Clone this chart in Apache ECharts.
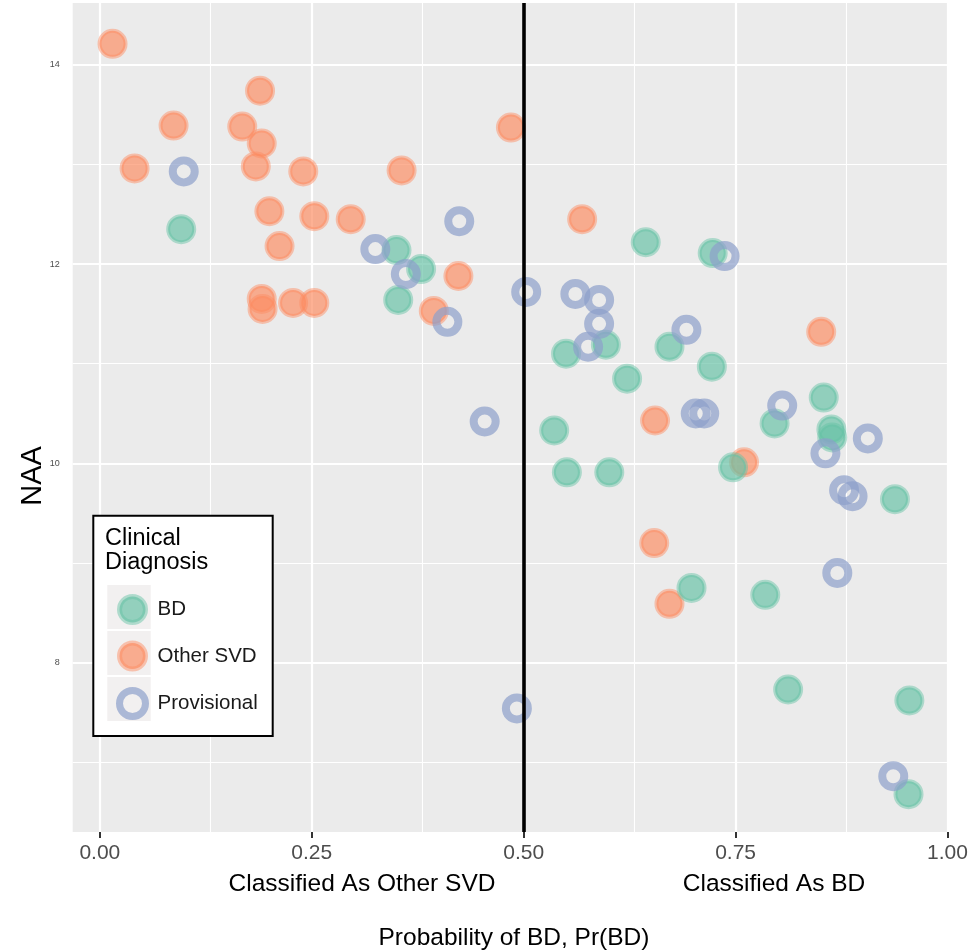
<!DOCTYPE html>
<html>
<head>
<meta charset="utf-8">
<script src="https://cdn.jsdelivr.net/npm/echarts@6/dist/echarts.min.js"></script>
<style>
  html, body { margin: 0; padding: 0; background: #ffffff; }
  #chart { width: 972px; height: 952px; }
</style>
</head>
<body>
<div id="chart"></div>
<script>
// Probability of BD vs NAA, by clinical diagnosis
const seriesNames = ['BD', 'Other SVD', 'Provisional'];

const bdProb = [0.096, 0.350, 0.379, 0.352, 0.644, 0.723, 0.597, 0.550, 0.672, 0.722, 0.622, 0.536, 0.551,
                0.601, 0.747, 0.796, 0.854, 0.863, 0.864, 0.938, 0.698, 0.785, 0.812, 0.955, 0.954];
const bdNAA  = [12.35, 12.14, 11.95, 11.64, 12.22, 12.11, 11.19, 11.10, 11.17, 10.97, 10.85, 10.33, 9.91,
                9.91, 9.96, 10.40, 10.66, 10.34, 10.26, 9.64, 8.75, 8.68, 7.73, 7.62, 6.68];

const otherProb = [0.015, 0.189, 0.087, 0.168, 0.191, 0.041, 0.184, 0.240, 0.356, 0.485, 0.200, 0.253, 0.296,
                   0.212, 0.423, 0.394, 0.191, 0.192, 0.228, 0.253, 0.569, 0.851, 0.655, 0.760, 0.654, 0.672];
const otherNAA  = [14.21, 13.74, 13.39, 13.38, 13.21, 12.96, 12.98, 12.93, 12.94, 13.37, 12.53, 12.48, 12.45,
                   12.18, 11.88, 11.53, 11.65, 11.55, 11.61, 11.61, 12.45, 11.32, 10.43, 10.01, 9.20, 8.59];

const provProb = [0.099, 0.424, 0.325, 0.361, 0.410, 0.503, 0.454, 0.737, 0.561, 0.589, 0.589, 0.576, 0.692,
                  0.703, 0.713, 0.805, 0.856, 0.906, 0.878, 0.888, 0.870, 0.492, 0.936];
const provNAA  = [12.93, 12.43, 12.15, 11.90, 11.42, 11.72, 10.42, 12.08, 11.70, 11.64, 11.40, 11.17, 11.34,
                  10.50, 10.50, 10.58, 10.10, 10.25, 9.73, 9.67, 8.90, 7.54, 6.86];

const xTicks = [0, 0.25, 0.5, 0.75, 1];
const xMinor = [0.125, 0.375, 0.625, 0.875];
const yTicks = [8, 10, 12, 14];
const yMinor = [7, 9, 11, 13];
const cutoff = 0.5;

const FONT = "'Liberation Sans', Arial, Helvetica, sans-serif";
const pairs = (xs, ys) => xs.map((x, i) => [x, ys[i]]);

const gridLines = [].concat(
  xTicks.map(v => ({ xAxis: v, lineStyle: { width: 2.2 } })),
  xMinor.map(v => ({ xAxis: v, lineStyle: { width: 1.1 } })),
  yTicks.map(v => ({ yAxis: v, lineStyle: { width: 2.2 } })),
  yMinor.map(v => ({ yAxis: v, lineStyle: { width: 1.1 } }))
);

const chart = echarts.init(document.getElementById('chart'), null, { renderer: 'canvas' });

chart.setOption({
  animation: false,
  backgroundColor: '#ffffff',
  grid: {
    left: 72.7, right: 24.5, top: 3, bottom: 120,
    show: true, backgroundColor: '#EBEBEB', borderWidth: 0
  },
  xAxis: {
    type: 'value', min: -0.032, max: 1.0,
    axisLine: { show: false },
    splitLine: { show: false },
    axisTick: { show: true, customValues: xTicks, length: 6, lineStyle: { color: '#333333', width: 2 } },
    axisLabel: {
      customValues: xTicks, showMinLabel: true, showMaxLabel: true,
      formatter: v => v.toFixed(2), fontSize: 21, color: '#4D4D4D', fontFamily: FONT, margin: 11
    }
  },
  yAxis: {
    type: 'value', min: 6.30, max: 14.62,
    axisLine: { show: false },
    splitLine: { show: false },
    axisTick: { show: true, customValues: yTicks, length: 6, lineStyle: { color: '#333333', width: 2 } },
    axisLabel: {
      customValues: yTicks, fontSize: 9, color: '#4D4D4D', fontFamily: FONT, margin: 13
    }
  },
  legend: {
    orient: 'vertical', left: 116, top: 594, padding: 0,
    itemWidth: 26, itemHeight: 26, itemGap: 15.5,
    selectedMode: false,
    textStyle: { fontSize: 20.5, color: '#1A1A1A', fontFamily: FONT, padding: [0, 0, 0, 7], lineHeight: 24 },
    data: [
      { name: 'BD', itemStyle: { borderWidth: 5 } },
      { name: 'Other SVD', itemStyle: { borderWidth: 5 } },
      { name: 'Provisional', itemStyle: { borderWidth: 7 } }
    ],
    z: 6
  },
  graphic: [
    { type: 'rect', z: 5, z2: 0, shape: { x: 93.3, y: 515.7, width: 179.4, height: 220.3 },
      style: { fill: '#ffffff', stroke: '#000000', lineWidth: 2 } },
    { type: 'rect', z: 5, z2: 1, shape: { x: 107.3, y: 585, width: 43.4, height: 44 }, style: { fill: '#F2F0F0' } },
    { type: 'rect', z: 5, z2: 1, shape: { x: 107.3, y: 631, width: 43.4, height: 44 }, style: { fill: '#F2F0F0' } },
    { type: 'rect', z: 5, z2: 1, shape: { x: 107.3, y: 677, width: 43.4, height: 44 }, style: { fill: '#F2F0F0' } },
    { type: 'text', z: 5, z2: 2, left: 105, top: 526,
      style: { text: 'Clinical\nDiagnosis', fontSize: 23.5, lineHeight: 24.5, fill: '#000000', fontFamily: FONT } },
    { type: 'text', z: 5, left: 18, top: 'middle', rotation: Math.PI / 2,
      style: { text: 'NAA', fontSize: 29, fill: '#000000', fontFamily: FONT } },
    { type: 'text', z: 5, style: { x: 362, y: 884, text: 'Classified As Other SVD', fontSize: 24.5,
      align: 'center', verticalAlign: 'middle', fill: '#000000', fontFamily: FONT } },
    { type: 'text', z: 5, style: { x: 774, y: 884, text: 'Classified As BD', fontSize: 24.5,
      align: 'center', verticalAlign: 'middle', fill: '#000000', fontFamily: FONT } },
    { type: 'text', z: 5, style: { x: 514, y: 938, text: 'Probability of BD, Pr(BD)', fontSize: 24.5,
      align: 'center', verticalAlign: 'middle', fill: '#000000', fontFamily: FONT } }
  ],
  series: [
    {
      name: 'grid', type: 'scatter', data: [], silent: true, z: 1,
      markLine: {
        z: 1, silent: true, symbol: ['none', 'none'], label: { show: false }, animation: false,
        lineStyle: { color: '#FFFFFF', type: 'solid' },
        emphasis: { disabled: true },
        data: gridLines
      }
    },
    {
      name: 'Other SVD', type: 'scatter', z: 2, symbol: 'circle', symbolSize: 26,
      itemStyle: { color: 'rgba(252,141,98,0.85)', borderColor: 'rgba(252,141,98,0.6)', borderWidth: 4 },
      data: pairs(otherProb, otherNAA)
    },
    {
      name: 'BD', type: 'scatter', z: 2, symbol: 'circle', symbolSize: 26,
      itemStyle: { color: 'rgba(102,194,165,0.85)', borderColor: 'rgba(102,194,165,0.6)', borderWidth: 4 },
      data: pairs(bdProb, bdNAA)
    },
    {
      name: 'Provisional', type: 'scatter', z: 2, symbol: 'circle', symbolSize: 22,
      itemStyle: { color: 'rgba(0,0,0,0)', borderColor: 'rgba(141,160,203,0.88)', borderWidth: 8 },
      data: pairs(provProb, provNAA)
    },
    {
      name: 'cutoff', type: 'scatter', data: [], silent: true, z: 3,
      markLine: {
        z: 6, silent: true, symbol: ['none', 'none'], label: { show: false }, animation: false,
        lineStyle: { color: '#000000', width: 3.6, type: 'solid' },
        emphasis: { disabled: true },
        data: [{ xAxis: cutoff }]
      }
    }
  ]
});
</script>
</body>
</html>
